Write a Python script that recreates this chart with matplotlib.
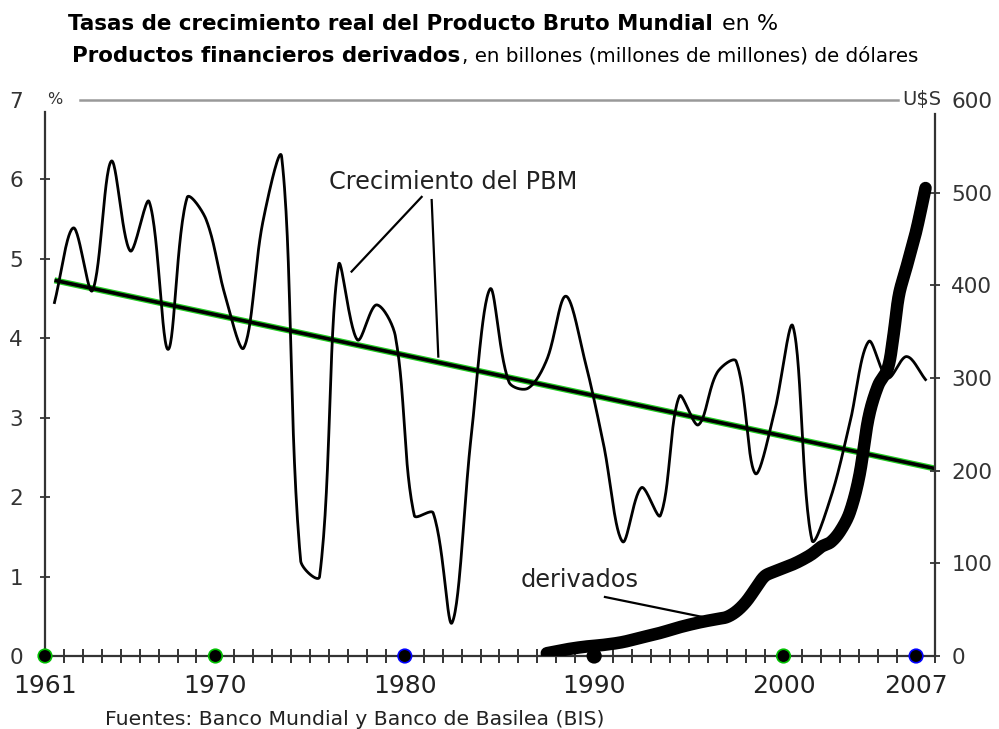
import numpy as np
import matplotlib
matplotlib.use('Agg')
import matplotlib.pyplot as plt

plt.rcParams['font.family'] = ['DejaVu Sans']

# ---------------- data ----------------
years = list(range(1961, 2008))
pbm_growth = [4.45, 5.39, 4.60, 6.23, 5.10, 5.72, 3.86, 5.77, 5.50, 4.55,
              3.88, 5.46, 6.28, 1.20, 1.00, 4.92, 3.98, 4.42, 4.03, 1.77,
              1.80, 0.42, 2.75, 4.62, 3.45, 3.37, 3.73, 4.53, 3.73, 2.66,
              1.44, 2.12, 1.77, 3.27, 2.91, 3.57, 3.71, 2.30, 3.05, 4.15,
              1.46, 2.00, 2.93, 3.96, 3.50, 3.77, 3.48]

trend_years = [1961, 2007.5]
trend_values = [4.73, 2.36]

deriv_years = [1987.0, 1988.0, 1989.0, 1990.0, 1991.0, 1992.0, 1993.0, 1994.0,
               1995.0, 1996.0, 1996.5, 1997.0, 1997.5, 1998.0, 1998.5, 1999.0,
               1999.5, 2000.0, 2000.5, 2001.0, 2001.5, 2002.0, 2002.5, 2003.0,
               2003.5, 2004.0, 2004.5, 2005.0, 2005.3, 2005.6, 2006.0, 2006.5,
               2007.0]
deriv_values = [3, 7, 10, 12, 15, 20, 25, 31,
                36, 40, 42, 48, 58, 72, 86, 91,
                95, 99, 104, 110, 118, 123, 135, 155,
                194, 258, 292, 310, 345, 390, 420, 458,
                505]

xtick_years = [1961, 1970, 1980, 1990, 2000, 2007]
xtick_labels = ['1961', '1970', '1980', '1990', '2000', '2007']
left_ticks = [0, 1, 2, 3, 4, 5, 6, 7]
right_ticks = [0, 100, 200, 300, 400, 500, 600]
marker_years = [1961, 1970, 1980, 1990, 2000, 2007]
marker_edges = ['#00c000', '#00c000', '#0000ff', '#000000', '#00c000', '#0000ff']

W, H = 999, 729
PX_X = 890 / 47.0       # pixels per year
PX_L = 556 / 7.0        # pixels per % unit
PX_R = 556 / 600.0      # pixels per derivative unit


def smooth(x, y, kx, ky, n=30):
    """Bezier smoothing with chord-length scaled tangents (in pixel space)."""
    P = np.column_stack([np.asarray(x, float), np.asarray(y, float)])
    Q = P * np.array([kx, ky])
    E = np.vstack([P[0], P, P[-1]])
    EQ = np.vstack([Q[0], Q, Q[-1]])
    t = np.linspace(0, 1, n, endpoint=False)[:, None]
    segs = []
    for i in range(len(P) - 1):
        p0, p1, p2, p3 = E[i], E[i + 1], E[i + 2], E[i + 3]
        q0, q1, q2, q3 = EQ[i], EQ[i + 1], EQ[i + 2], EQ[i + 3]
        d01 = np.hypot(*(q1 - q0))
        d12 = np.hypot(*(q2 - q1))
        d23 = np.hypot(*(q3 - q2))
        f1 = d12 / (d01 + d12) if d01 + d12 > 0 else 0.5
        f2 = d12 / (d12 + d23) if d12 + d23 > 0 else 0.5
        c1 = p1 + (p2 - p0) * f1 / 3.0
        c2 = p2 - (p3 - p1) * f2 / 3.0
        segs.append((1 - t) ** 3 * p1 + 3 * (1 - t) ** 2 * t * c1
                    + 3 * (1 - t) * t ** 2 * c2 + t ** 3 * p2)
    segs.append(P[-1][None, :])
    S = np.vstack(segs)
    return S[:, 0], S[:, 1]


def xpos(yrs):
    return np.asarray(yrs, float) - 1961 + 0.5


fig = plt.figure(figsize=(W / 100, H / 100), dpi=100)
ax = fig.add_axes([45 / W, 1 - 656 / H, 890 / W, 556 / H])
ax2 = ax.twinx()

ax.set_xlim(0, 47)
ax.set_ylim(0, 7)
ax2.set_ylim(0, 600)

spc = '#333333'
for s in ['top', 'right']:
    ax.spines[s].set_visible(False)
for s in ['top', 'left', 'bottom']:
    ax2.spines[s].set_visible(False)
ax.spines['left'].set_bounds(0, 6.85)
ax2.spines['right'].set_bounds(0, 585)
for sp in [ax.spines['left'], ax.spines['bottom'], ax2.spines['right']]:
    sp.set_color(spc)
    sp.set_linewidth(1.6)

# trend line
tx = xpos(trend_years)
ax.plot(tx, trend_values, color='#22cc22', lw=4.4, solid_capstyle='butt', zorder=3)
ax.plot(tx, trend_values, color='black', lw=2.6, solid_capstyle='butt', zorder=4)

# PBM growth (smoothed)
sx, sy = smooth(xpos(years), pbm_growth, PX_X, PX_L)
ax.plot(sx, sy, color='black', lw=2.0, zorder=5, solid_joinstyle='round')

# axis markers
mx = np.asarray(marker_years, float) - 1961
ax.scatter(mx, np.zeros_like(mx), s=95, c='black', edgecolors=marker_edges,
           linewidths=1.2, zorder=10, clip_on=False)

# derivatives (smoothed, thick)
dx, dy = smooth(xpos(deriv_years), deriv_values, PX_X, PX_R)
ax2.plot(dx - 0.22, dy + 1, color='#ff5a00', lw=2.0, zorder=2)
ax2.plot(dx, dy, color='black', lw=9, zorder=3, solid_capstyle='round',
         solid_joinstyle='round')

# ticks
ax.set_xticks(range(48))
lab = {y - 1961: l for y, l in zip(xtick_years, xtick_labels)}
ax.set_xticklabels([lab.get(i, '') for i in range(48)], fontsize=18, color='#222222')
ax.tick_params(axis='x', direction='inout', length=10, width=1.4, color=spc, pad=8)

ax.set_yticks(left_ticks)
ax.set_yticklabels([str(v) for v in left_ticks], fontsize=15.5, color='#333333')
ax.tick_params(axis='y', direction='inout', length=7.5, width=1.3, color=spc, pad=12)
ax.yaxis.get_major_ticks()[-1].tick1line.set_visible(False)

ax2.set_yticks(right_ticks)
ax2.set_yticklabels([str(v) for v in right_ticks], fontsize=15.5, color='#333333')
ax2.tick_params(axis='y', direction='inout', length=7.5, width=1.3, color=spc, pad=8)
ax2.yaxis.get_major_ticks()[-1].tick2line.set_visible(False)

# top gray line and unit labels
ax.plot([(80 - 45) / 890, (898 - 45) / 890], [1, 1], transform=ax.transAxes,
        color='#999999', lw=1.8, clip_on=False)
ax.text((55 - 45) / 890, 1.0, '%', transform=ax.transAxes, ha='center', va='center',
        fontsize=11.5, color='#333333')
ax.text((941 - 45) / 890, 1.0, 'U$S', transform=ax.transAxes, ha='right', va='center',
        fontsize=14, color='#333333')

# annotations
ax.text(21.54, 5.97, 'Crecimiento del PBM', ha='center', va='center', fontsize=17.3,
        color='#222222')
ax.plot([19.89, 16.19], [5.78, 4.84], color='black', lw=1.6)
ax.plot([20.42, 20.77], [5.74, 3.77], color='black', lw=1.6)

ax.text(28.25, 0.96, 'derivados', ha='center', va='center', fontsize=17.3, color='#222222')
ax.plot([29.57, 35.0], [0.743, 0.478], color='black', lw=1.6)

# titles
fig.canvas.draw()
r = fig.canvas.get_renderer()
t1 = fig.text(68.3 / W, 1 - 30 / H, 'Tasas de crecimiento real del Producto Bruto Mundial',
              fontsize=15.4, fontweight='bold', va='baseline', ha='left')
t2 = fig.text(71.7 / W, 1 - 61.7 / H, 'Productos financieros derivados',
              fontsize=15.4, fontweight='bold', va='baseline', ha='left')
b1 = t1.get_window_extent(r)
b2 = t2.get_window_extent(r)
fig.text(b1.x1 / W + 9 / W, 1 - 30 / H, 'en %', fontsize=16, va='baseline', ha='left')
fig.text(b2.x1 / W + 2 / W, 1 - 61.7 / H, ', en billones (millones de millones) de dólares',
         fontsize=14.3, va='baseline', ha='left')

fig.text(105 / W, 1 - 725 / H, 'Fuentes: Banco Mundial y Banco de Basilea (BIS)',
         fontsize=14.7, va='baseline', ha='left', color='#222222')

fig.savefig('out.png', dpi=100)
